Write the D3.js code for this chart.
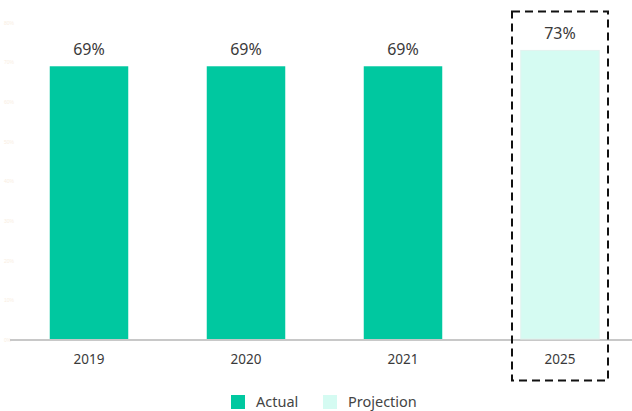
<!DOCTYPE html>
<html>
<head>
<meta charset="utf-8">
<script src="https://cdn.jsdelivr.net/npm/d3@7"></script>
<style>
  html, body { margin: 0; padding: 0; background: #fff; }
  svg { display: block; font-family: "Noto Sans", "Open Sans", sans-serif; }
</style>
</head>
<body>
<svg id="chart" width="632" height="411"></svg>
<script>
// Share of respondents by year; 2025 is a projection
const years = ["2019", "2020", "2021", "2025"];
const shares = [0.69, 0.69, 0.69, 0.73];
const kinds = ["Actual", "Actual", "Actual", "Projection"];
const yTicks = [0, 0.1, 0.2, 0.3, 0.4, 0.5, 0.6, 0.7, 0.8];
const legendItems = ["Actual", "Projection"];

const colors = { Actual: "#00c8a0", Projection: "#d5fbf2" };

const svg = d3.select("#chart");
const baseY = 340;

const x = d3.scaleBand().domain(years).range([10.5, 638.5]).paddingInner(0.5).paddingOuter(0.25);
const y = d3.scaleLinear().domain([0, 0.8]).range([baseY, baseY - 0.8 * 396.7]);

// faint value axis
const yAxis = svg.append("g")
  .attr("transform", "translate(4,0)")
  .call(d3.axisRight(y).tickValues(yTicks).tickFormat(d3.format(".0%")).tickSize(0));
yAxis.select(".domain").remove();
yAxis.selectAll("text")
  .attr("x", 0)
  .attr("fill", "#f9eee2")
  .style("font-size", "5px");

// baseline
svg.append("line")
  .attr("x1", 10).attr("x2", 632)
  .attr("y1", baseY).attr("y2", baseY)
  .attr("stroke", "#c8c8c8").attr("stroke-width", 2);

const data = years.map((yr, i) => ({ year: yr, value: shares[i], kind: kinds[i] }));

svg.append("g").selectAll("rect")
  .data(data)
  .join("rect")
  .attr("x", d => x(d.year))
  .attr("width", x.bandwidth())
  .attr("y", d => y(d.value))
  .attr("height", d => y(0) - y(d.value) - 1)
  .attr("fill", d => colors[d.kind])
  .attr("stroke", d => d.kind === "Projection" ? "#e2f2ee" : "none")
  .attr("stroke-width", 1);

// value labels
svg.append("g").selectAll("text")
  .data(data)
  .join("text")
  .attr("x", d => x(d.year) + x.bandwidth() / 2)
  .attr("y", d => y(d.value) - 11)
  .attr("text-anchor", "middle")
  .attr("fill", "#3a3a3a")
  .style("font-size", "16px")
  .text(d => d3.format(".0%")(d.value));

// year labels
svg.append("g").selectAll("text")
  .data(years)
  .join("text")
  .attr("x", d => x(d) + x.bandwidth() / 2)
  .attr("y", 364)
  .attr("text-anchor", "middle")
  .attr("fill", "#3a3a3a")
  .style("font-size", "13.5px")
  .text(d => d);

// dashed frame around the projected year
const pc = x("2025") + x.bandwidth() / 2;
svg.append("rect")
  .attr("x", pc - 48).attr("y", 11.5)
  .attr("width", 96).attr("height", 369)
  .attr("fill", "none")
  .attr("stroke", "#111").attr("stroke-width", 2)
  .attr("stroke-dasharray", "8,5");

// legend
const legend = svg.append("g");
const legendX = [231, 323];
legendItems.forEach((name, i) => {
  const g = legend.append("g").attr("transform", `translate(${legendX[i]},395)`);
  g.append("rect").attr("width", 14).attr("height", 14).attr("fill", colors[name]);
  g.append("text")
    .attr("x", 25).attr("y", 12)
    .attr("fill", "#444")
    .style("font-size", "14.5px")
    .text(name);
});
</script>
</body>
</html>
